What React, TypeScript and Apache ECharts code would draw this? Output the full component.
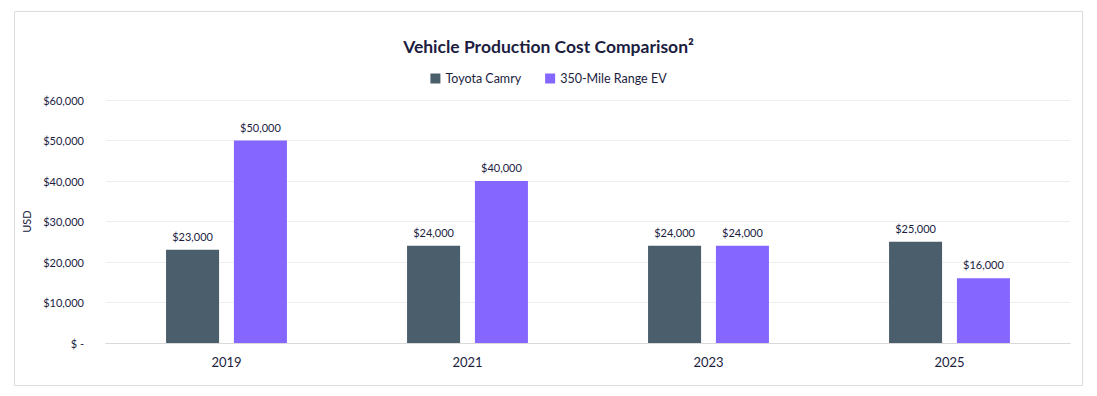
import React, { useEffect, useRef } from "react";
import * as echarts from "echarts";

const categories = ["2019", "2021", "2023", "2025"];
const camry = [23000, 24000, 24000, 25000];
const ev = [50000, 40000, 24000, 16000];
const seriesNames = ["Toyota Camry", "350-Mile Range EV"];

const fmt = (v: number) => (v === 0 ? "$ -" : "$" + v.toLocaleString("en-US"));

export default function App() {
  const ref = useRef<HTMLDivElement>(null);
  useEffect(() => {
    const chart = echarts.init(ref.current!, null, { renderer: "svg" });
    const font = "Lato, 'Open Sans', sans-serif";
    chart.setOption({
      animation: false,
      textStyle: { fontFamily: font },
      graphic: [
        {
          type: "rect",
          shape: { x: 14.5, y: 11.5, width: 1068, height: 374 },
          style: { fill: "none", stroke: "#dcdcdc", lineWidth: 1 },
          silent: true,
        },
      ],
      title: {
        text: "Vehicle Production Cost Comparison²",
        left: "center",
        top: 32,
        textStyle: { fontSize: 17.5, fontWeight: "bold", color: "#1c1d3f", fontFamily: font },
      },
      legend: {
        data: seriesNames,
        top: 67,
        left: "center",
        itemWidth: 10,
        itemHeight: 10,
        itemGap: 24,
        icon: "rect",
        textStyle: { fontSize: 12.5, color: "#1c1d3f", fontFamily: font },
      },
      grid: { left: 106, right: 27, top: 100, bottom: 53 },
      xAxis: {
        type: "category",
        data: categories,
        axisTick: { show: false },
        axisLine: { lineStyle: { color: "#d9d9d9" } },
        axisLabel: { fontSize: 13, color: "#1c1d3f", margin: 12 },
      },
      yAxis: {
        type: "value",
        min: 0,
        max: 60000,
        interval: 10000,
        name: "USD",
        nameLocation: "middle",
        nameGap: 66,
        nameTextStyle: { fontSize: 11, color: "#1c1d3f" },
        axisLabel: { formatter: fmt, fontSize: 11, color: "#1c1d3f", margin: 22 },
        splitLine: { lineStyle: { color: "#efefef" } },
        axisLine: { show: false },
        axisTick: { show: false },
      },
      series: [
        {
          name: seriesNames[0],
          type: "bar",
          data: camry,
          barWidth: "22%",
          barGap: "28%",
          itemStyle: { color: "#4b5e6b" },
          label: { show: true, position: "top", distance: 8, formatter: (p: any) => fmt(p.value), fontSize: 11, color: "#1c1d3f" },
        },
        {
          name: seriesNames[1],
          type: "bar",
          data: ev,
          barWidth: "22%",
          itemStyle: { color: "#8566ff" },
          label: { show: true, position: "top", distance: 8, formatter: (p: any) => fmt(p.value), fontSize: 11, color: "#1c1d3f" },
        },
      ],
    });
    return () => chart.dispose();
  }, []);
  return (
    <div
      ref={ref}
      style={{ position: "fixed", left: 0, top: 0, width: 1097, height: 396, background: "#fff" }}
    />
  );
}
